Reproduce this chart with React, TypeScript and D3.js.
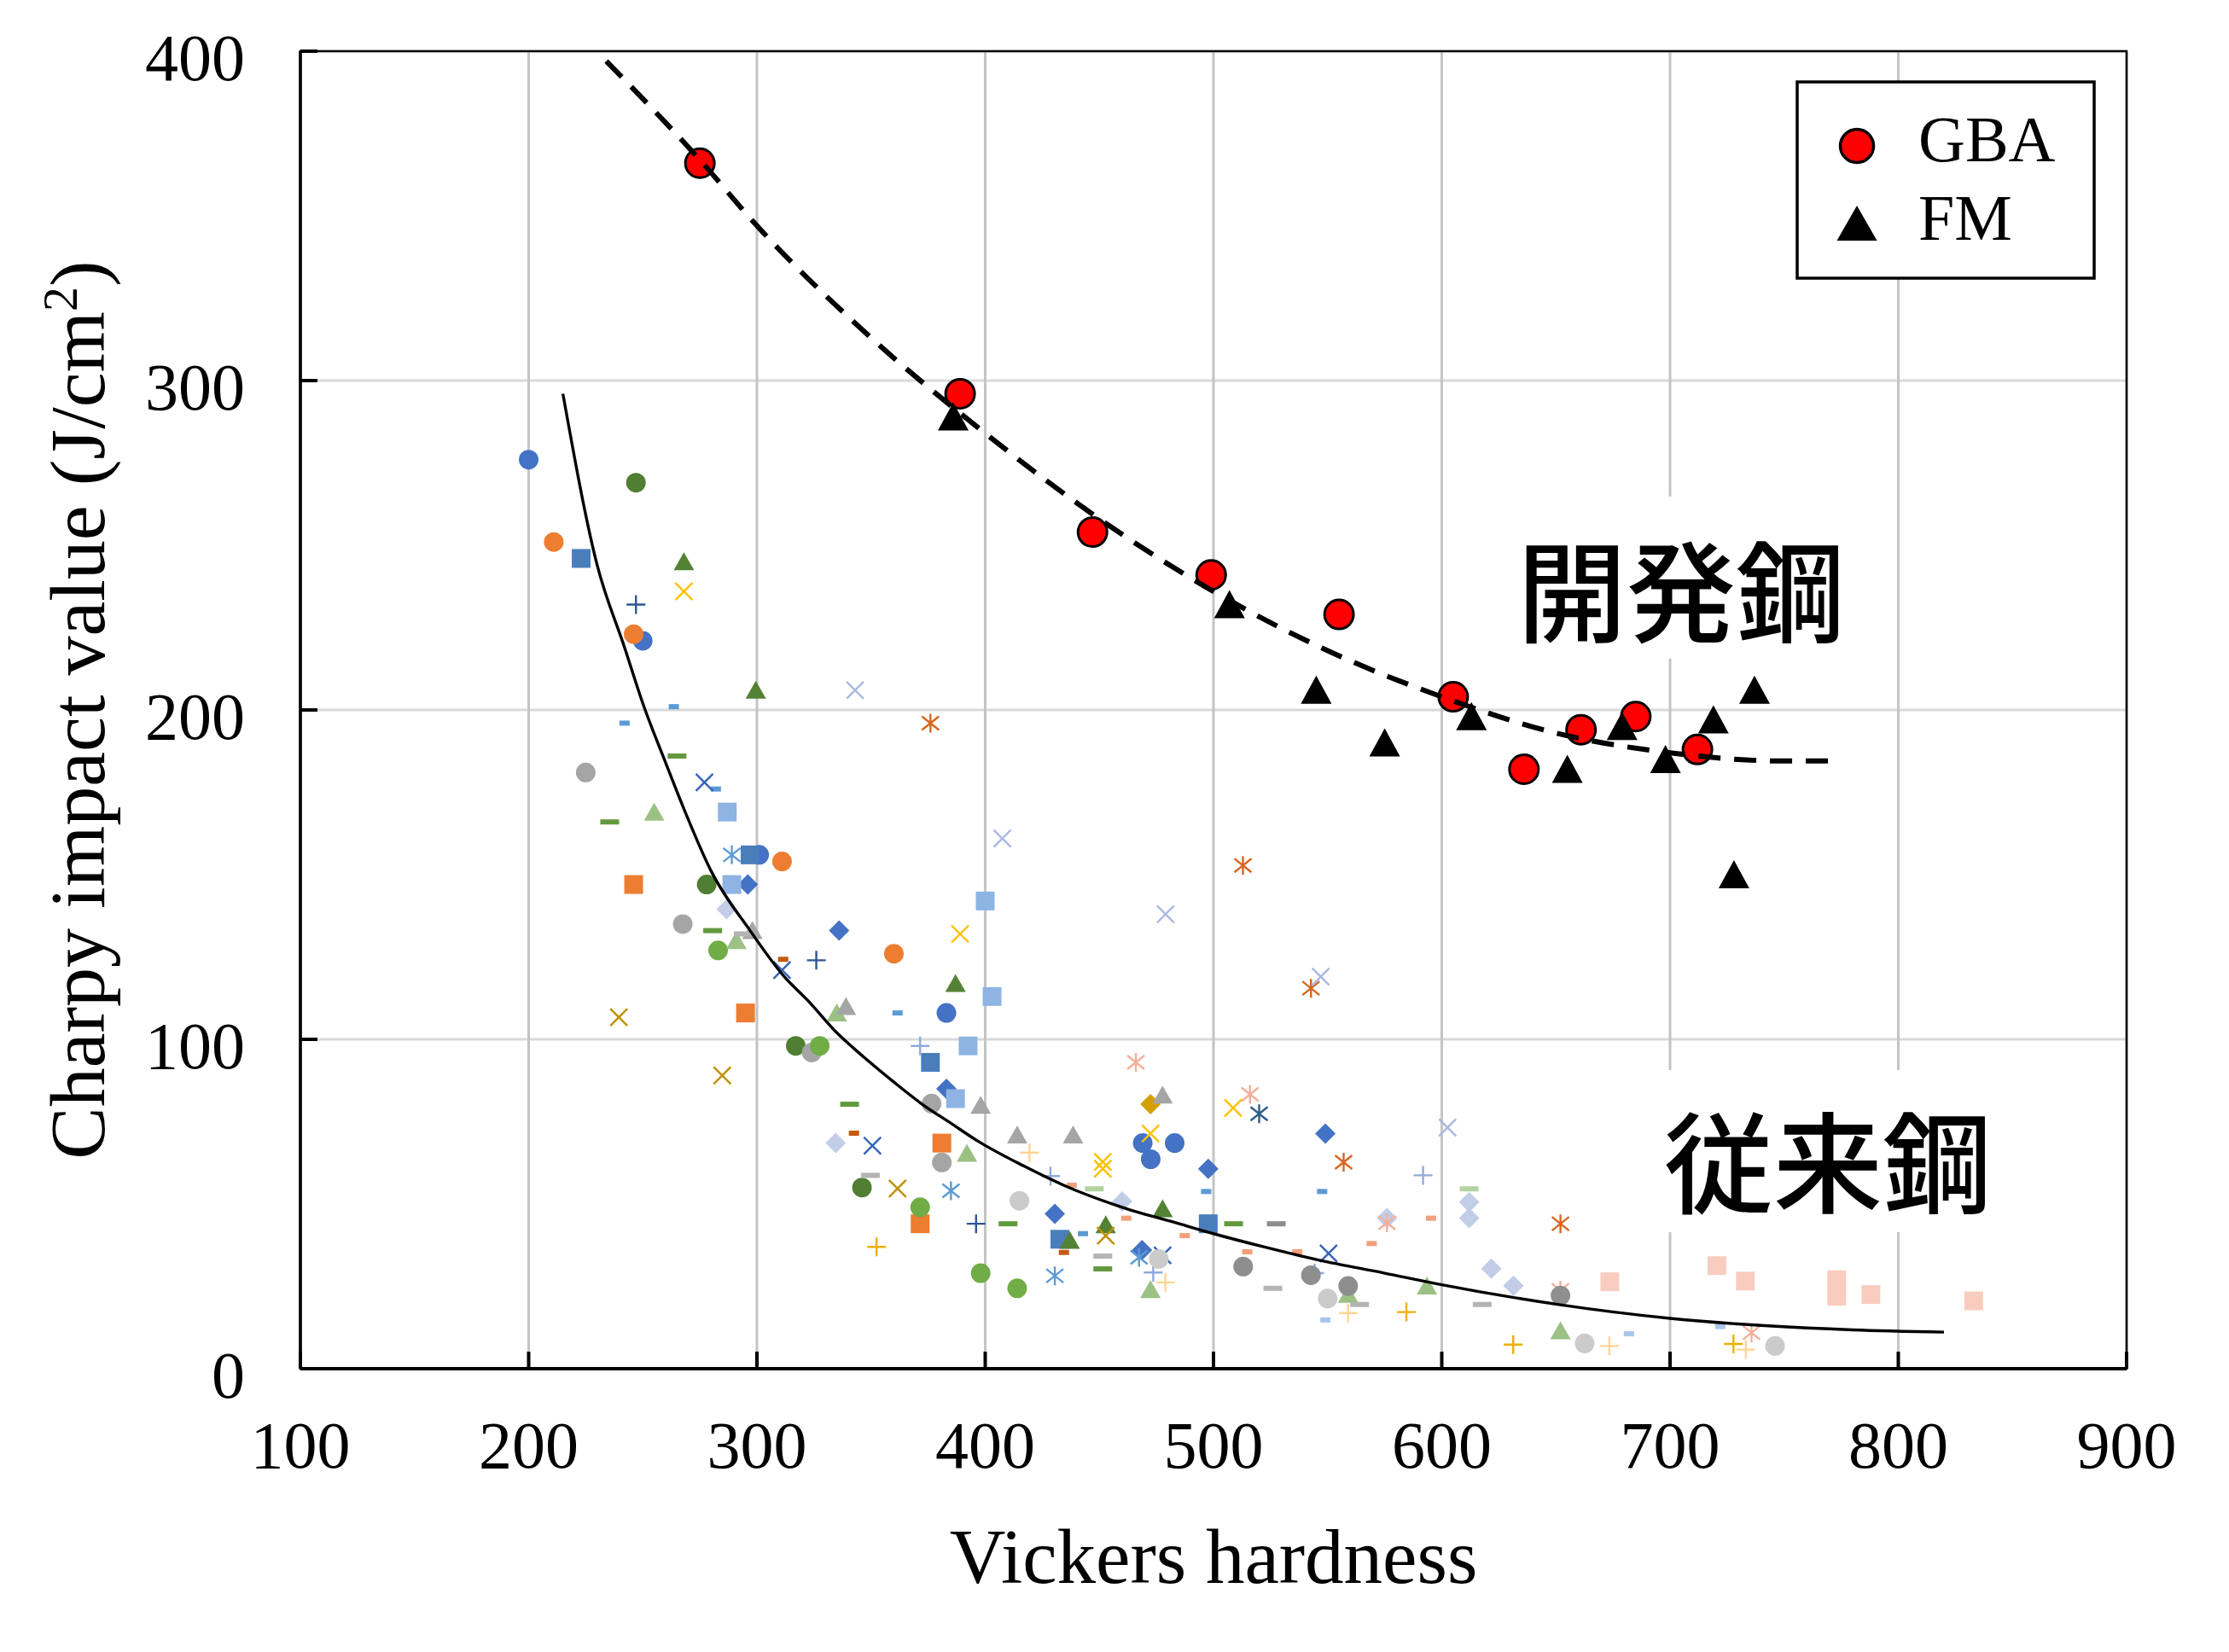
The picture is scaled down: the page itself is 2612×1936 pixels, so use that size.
import React from 'react';
import * as d3 from 'd3';

type Pt = [number, number];

// axis ticks
const xTicks = [100, 200, 300, 400, 500, 600, 700, 800, 900];
const yTicks = [0, 100, 200, 300, 400];

// developed steel (開発鋼)
const gba: Pt[] = [
  [275, 366], [389, 296], [447, 254], [499, 241], [555, 229],
  [605, 204], [636, 182], [661, 194], [685, 198], [712, 188],
];
const fm: Pt[] = [
  [386, 289], [507, 232], [545, 206], [575, 190], [613, 198], [655, 182],
  [679, 195], [698, 185], [719, 197], [737, 206], [728, 150],
];
// trend lines
const devTrend: Pt[] = [
  [234, 397], [275, 367], [300, 347], [350, 313], [400, 284], [450, 258],
  [500, 236], [550, 218], [600, 204], [650, 193], [700, 187], [750, 184.5], [771, 184.5],
];
const convTrend: Pt[] = [
  [215, 296], [230, 244], [242, 219], [250, 202], [260, 184], [268, 170], [280, 151],
  [297, 133], [312, 119], [322, 112], [335, 102], [347, 94.5], [360, 87], [372, 80.5],
  [385, 74.5], [397, 69], [417, 61.5], [435, 55.5], [460, 49], [485, 44], [500, 41],
  [522, 37], [546, 33], [575, 29], [600, 25.5], [650, 19.6], [700, 15.3], [743, 13],
  [780, 11.8], [820, 11.1],
];

// conventional steels (従来鋼), one array per plotted series
const blueCircle: Pt[] = [[200, 276], [250, 221], [301, 156], [383, 108], [469, 68.5], [483, 68.5], [472.5, 63.6]];
const orangeCircle: Pt[] = [[211, 251], [246, 223], [311, 154], [360, 126]];
const darkGreenCircle: Pt[] = [[247, 269], [278, 147], [317, 98], [346, 55]];
const grayCircle: Pt[] = [[225, 181], [267.5, 135], [324, 96], [376.5, 80.5], [381, 62.6]];
const greenCircle: Pt[] = [[283, 127], [327.5, 98], [371.5, 49], [398, 29], [414, 24.4]];
const lightGrayCircle: Pt[] = [[415, 51], [476, 33.3], [550, 21.3], [662.6, 7.7], [746, 6.9]];
const darkGrayCircle: Pt[] = [[513, 31], [542.7, 28.4], [559, 25.1], [652, 22.2]];
const steelSquare: Pt[] = [[223, 246], [297, 156], [376, 93], [432.7, 39.3], [497.7, 44]];
const orangeSquare: Pt[] = [[246, 147], [295, 108], [381, 68.5], [371.5, 44]];
const lightBlueSquare: Pt[] = [[287, 169], [289, 147], [400, 142], [403, 113], [392.5, 98], [387, 82]];
const pinkSquare: Pt[] = [[673.6, 26.4], [720.5, 31.3], [733, 26.6], [773, 27], [773, 22], [788, 22.5], [833, 20.6]];
const blueDiamond: Pt[] = [[296, 147], [336, 133], [383, 85], [430.5, 47], [468.7, 36], [497.7, 60.7], [549, 71.4]];
const lavenderDiamond: Pt[] = [[286.7, 139.5], [334.5, 68.5], [460, 50.8], [576, 45.7], [612, 50.6], [612, 45.7], [621.7, 30.4], [631.4, 25.2]];
const goldDiamond: Pt[] = [[472.4, 80.3]];
const greenTriangle: Pt[] = [[268, 245], [299.5, 206], [387, 117], [437, 39], [452.8, 43.7], [477.7, 48.6]];
const lightGreenTriangle: Pt[] = [[255, 169], [291, 130], [335, 108], [392, 65.4], [472.4, 24], [559, 22.6], [593.5, 25.1], [652, 11.5]];
const grayTriangle: Pt[] = [[298, 133], [339, 110], [398, 80], [414, 71], [438.5, 71], [477.7, 83.1]];
const yellowCross: Pt[] = [[268, 236], [389, 132], [451.5, 62.8], [451.5, 60.7], [472.4, 71.4], [508.6, 79.2]];
const lavenderCross: Pt[] = [[343, 206], [407.5, 161], [479, 138], [547, 119], [602.5, 73.2]];
const navyCross: Pt[] = [[277, 178], [311, 121], [350.6, 67.7], [477.7, 34.4], [550.4, 35]];
const darkGoldCross: Pt[] = [[239.5, 106.7], [284.8, 89], [361.6, 54.7], [452.8, 40.4]];
const orangeStar: Pt[] = [[376, 196], [512.9, 152.8], [542.7, 115.5], [557, 62.7], [652, 44]];
const salmonStar: Pt[] = [[466, 93], [516, 83.3], [576, 44.3], [652, 23.8], [735.7, 10.9]];
const lightBlueStar: Pt[] = [[289, 156], [385, 54], [430.5, 28.2], [467.4, 33.8]];
const navyStar: Pt[] = [[520, 77.4]];
const navyPlus: Pt[] = [[247, 232], [326, 124], [396, 44]];
const lavenderPlus: Pt[] = [[371.5, 98], [428.6, 58.5], [473.6, 29.2], [544.3, 29], [591.8, 58.7]];
const yellowPlus: Pt[] = [[352.4, 37], [584.5, 17.2], [631.3, 7.3], [727.8, 7.5]];
const lightOrangePlus: Pt[] = [[419.4, 65.6], [478.9, 26.2], [559, 16.9], [673.4, 6.9], [733.2, 5.8]];
const blueDash: Pt[] = [[242, 196], [263.6, 201], [282, 176], [361.6, 108], [442.8, 41], [496.8, 53.8], [547.6, 53.8]];
const greenDash: Pt[] = [[235.5, 166], [265, 186], [280.6, 133], [340.6, 80.3], [410, 44], [451.5, 30.3], [508.8, 44]];
const darkOrangeDash: Pt[] = [[311.5, 124.3], [342.5, 71.5], [434.5, 35.3]];
const grayDash: Pt[] = [[294, 132], [349.7, 58.7], [451.5, 34.2], [526, 24.4], [564, 19.5], [617.7, 19.5]];
const salmonDash: Pt[] = [[437.9, 55.7], [461.8, 45.7], [487.4, 40.4], [514.8, 35.5], [536.7, 35.5], [569.3, 38], [595.3, 45.7]];
const lightGreenDash: Pt[] = [[447.8, 54.6], [513, 31.1], [612, 54.6]];
const darkGrayDash: Pt[] = [[527.5, 44]];
const paleBlueDash: Pt[] = [[549, 14.8], [682, 10.6], [722, 12.8]];

type Shape = 'circle' | 'square' | 'diamond' | 'triangle' | 'cross' | 'star' | 'plus' | 'dashS' | 'dashL';

const conventional: { data: Pt[]; shape: Shape; color: string }[] = [
  { data: blueCircle, shape: 'circle', color: '#4472C4' },
  { data: orangeCircle, shape: 'circle', color: '#ED7D31' },
  { data: steelSquare, shape: 'square', color: '#4A7EBB' },
  { data: orangeSquare, shape: 'square', color: '#ED7D31' },
  { data: blueDiamond, shape: 'diamond', color: '#4472C4' },
  { data: greenTriangle, shape: 'triangle', color: '#548235' },
  { data: yellowCross, shape: 'cross', color: '#FFC000' },
  { data: orangeStar, shape: 'star', color: '#D9661F' },
  { data: navyPlus, shape: 'plus', color: '#2F5597' },
  { data: blueDash, shape: 'dashS', color: '#5B9BD5' },
  { data: greenDash, shape: 'dashL', color: '#62993E' },
  { data: darkGreenCircle, shape: 'circle', color: '#507E32' },
  { data: grayCircle, shape: 'circle', color: '#A5A5A5' },
  { data: greenCircle, shape: 'circle', color: '#70AD47' },
  { data: lightBlueSquare, shape: 'square', color: '#8EB4E3' },
  { data: lavenderDiamond, shape: 'diamond', color: '#C2CDE8' },
  { data: goldDiamond, shape: 'diamond', color: '#D4A000' },
  { data: lightGreenTriangle, shape: 'triangle', color: '#9BC184' },
  { data: grayTriangle, shape: 'triangle', color: '#A5A5A5' },
  { data: lavenderCross, shape: 'cross', color: '#A9B9E0' },
  { data: navyCross, shape: 'cross', color: '#3563B5' },
  { data: darkGoldCross, shape: 'cross', color: '#BF9000' },
  { data: salmonStar, shape: 'star', color: '#F4B09A' },
  { data: lightBlueStar, shape: 'star', color: '#5B9BD5' },
  { data: navyStar, shape: 'star', color: '#2E5C8A' },
  { data: lavenderPlus, shape: 'plus', color: '#8FAADC' },
  { data: yellowPlus, shape: 'plus', color: '#EDB000' },
  { data: lightOrangePlus, shape: 'plus', color: '#FFD595' },
  { data: darkOrangeDash, shape: 'dashS', color: '#C55A11' },
  { data: grayDash, shape: 'dashL', color: '#B4B4B4' },
  { data: salmonDash, shape: 'dashS', color: '#F1A07A' },
  { data: lightGreenDash, shape: 'dashL', color: '#B3D3A0' },
  { data: darkGrayDash, shape: 'dashL', color: '#8C8C8C' },
  { data: paleBlueDash, shape: 'dashS', color: '#A9C6E8' },
  { data: lightGrayCircle, shape: 'circle', color: '#CBCBCB' },
  { data: darkGrayCircle, shape: 'circle', color: '#8E8E8E' },
  { data: pinkSquare, shape: 'square', color: '#F8CDC0' },
];

const W = 2612;
const H = 1936;
const plot = { left: 352, right: 2492, top: 60, bottom: 1604 };
const serif = '"Liberation Serif", "Times New Roman", serif';
const cjk = '"Noto Sans CJK JP", sans-serif';

const x = d3.scaleLinear().domain([100, 900]).range([plot.left, plot.right]);
const y = d3.scaleLinear().domain([0, 400]).range([plot.bottom, plot.top]);

function Marker({ shape, color, cx, cy }: { shape: Shape; color: string; cx: number; cy: number }) {
  const t = `translate(${cx},${cy})`;
  switch (shape) {
    case 'circle':
      return <circle transform={t} r={11.5} fill={color} />;
    case 'square':
      return <rect transform={t} x={-11} y={-11} width={22} height={22} fill={color} />;
    case 'diamond':
      return <path transform={t} d="M0,-12L12,0L0,12L-12,0Z" fill={color} />;
    case 'triangle':
      return <path transform={t} d="M0,-11L12,10L-12,10Z" fill={color} />;
    case 'cross':
      return <path transform={t} d="M-10,-10L10,10M-10,10L10,-10" stroke={color} strokeWidth={2.4} fill="none" />;
    case 'star':
      return <path transform={t} d="M-10,-8L10,8M-10,8L10,-8M0,-11L0,11" stroke={color} strokeWidth={2.4} fill="none" />;
    case 'plus':
      return <path transform={t} d="M-11,0L11,0M0,-11L0,11" stroke={color} strokeWidth={2.4} fill="none" />;
    case 'dashS':
      return <rect transform={t} x={-6} y={-3} width={12} height={6} fill={color} />;
    case 'dashL':
      return <rect transform={t} x={-11} y={-3} width={22} height={6} fill={color} />;
  }
  return null;
}

const line = d3
  .line<Pt>()
  .x(d => x(d[0]))
  .y(d => y(d[1]))
  .curve(d3.curveMonotoneX);

const App: React.FC = () => {
  return (
    <svg
      width={W}
      height={H}
      viewBox={`0 0 ${W} ${H}`}
      style={{ position: 'absolute', left: 0, top: 0, background: '#fff' }}
    >
      <rect x={0} y={0} width={W} height={H} fill="#fff" />

      {/* gridlines */}
      {yTicks.map(t => (
        <line key={'gy' + t} x1={plot.left} x2={plot.right} y1={y(t)} y2={y(t)} stroke="#D9D9D9" strokeWidth={3} />
      ))}
      {xTicks.map(t => (
        <line key={'gx' + t} x1={x(t)} x2={x(t)} y1={plot.top} y2={plot.bottom} stroke="#C4C4C4" strokeWidth={3} />
      ))}

      {/* label boxes cover the grid */}
      <rect x={1770} y={582} width={405} height={190} fill="#fff" />
      <rect x={1940} y={1254} width={405} height={190} fill="#fff" />
      <text x={1970} y={687} fontFamily={cjk} fontWeight={500} fontSize={128} textAnchor="middle" dominantBaseline="central">
        開発鋼
      </text>
      <text x={2142} y={1356} fontFamily={cjk} fontWeight={500} fontSize={128} textAnchor="middle" dominantBaseline="central">
        従来鋼
      </text>

      {/* conventional steels */}
      {conventional.map((s, i) => (
        <g key={'s' + i}>
          {s.data.map((d, j) => (
            <Marker key={j} shape={s.shape} color={s.color} cx={x(d[0])} cy={y(d[1])} />
          ))}
        </g>
      ))}

      {/* developed steel */}
      {gba.map((d, i) => (
        <circle key={'g' + i} cx={x(d[0])} cy={y(d[1])} r={17} fill="#FF0000" stroke="#000" strokeWidth={3} />
      ))}
      {fm.map((d, i) => (
        <path key={'f' + i} transform={`translate(${x(d[0])},${y(d[1])})`} d="M0,-17L18,16L-18,16Z" fill="#000" />
      ))}

      {/* trend lines */}
      <path d={line(devTrend) || ''} fill="none" stroke="#000" strokeWidth={6} strokeDasharray="26 16" />
      <path d={line(convTrend) || ''} fill="none" stroke="#000" strokeWidth={3.4} />

      {/* frame + axes */}
      <rect x={plot.left} y={plot.top} width={plot.right - plot.left} height={plot.bottom - plot.top} fill="none" stroke="#000" strokeWidth={2.5} />
      <line x1={plot.left} x2={plot.right} y1={plot.bottom} y2={plot.bottom} stroke="#000" strokeWidth={4} />
      <line x1={plot.left} x2={plot.left} y1={plot.top} y2={plot.bottom} stroke="#000" strokeWidth={3.5} />
      {xTicks.map(t => (
        <line key={'tx' + t} x1={x(t)} x2={x(t)} y1={plot.bottom} y2={plot.bottom - 20} stroke="#000" strokeWidth={4} />
      ))}
      {yTicks.map(t => (
        <line key={'ty' + t} x1={plot.left} x2={plot.left + 20} y1={y(t)} y2={y(t)} stroke="#000" strokeWidth={4} />
      ))}

      {/* tick labels */}
      {xTicks.map(t => (
        <text key={'lx' + t} x={x(t)} y={1720} fontFamily={serif} fontSize={78} textAnchor="middle">
          {t}
        </text>
      ))}
      {yTicks.map(t => (
        <text key={'ly' + t} x={287} y={y(t) + 34} fontFamily={serif} fontSize={78} textAnchor="end">
          {t}
        </text>
      ))}

      {/* axis titles */}
      <text x={(plot.left + plot.right) / 2} y={1855} fontFamily={serif} fontSize={91} textAnchor="middle">
        Vickers hardness
      </text>
      <text transform={`translate(122,${(plot.top + plot.bottom) / 2}) rotate(-90)`} fontFamily={serif} fontSize={92} textAnchor="middle">
        Charpy impact value (J/cm<tspan baselineShift="super" fontSize={58}>2</tspan>)
      </text>

      {/* legend */}
      <rect x={2106} y={96} width={348} height={230} fill="#fff" stroke="#000" strokeWidth={3.5} />
      <circle cx={2176} cy={171} r={19.5} fill="#FF0000" stroke="#000" strokeWidth={3.5} />
      <path transform="translate(2176,262)" d="M0,-21L23.5,20L-23.5,20Z" fill="#000" />
      <text x={2248} y={189} fontFamily={serif} fontSize={76}>GBA</text>
      <text x={2248} y={281} fontFamily={serif} fontSize={76}>FM</text>
    </svg>
  );
};

export default App;
